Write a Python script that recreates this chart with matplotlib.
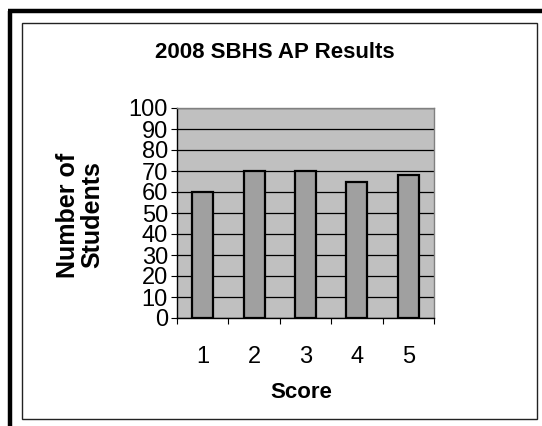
import matplotlib.pyplot as plt
from matplotlib.lines import Line2D
from matplotlib.patches import Rectangle
from matplotlib.ticker import FixedLocator

# AP score counts
scores = [1, 2, 3, 4, 5]
students = [60, 70, 70, 65, 68]
score_labels = ["1", "2", "3", "4", "5"]
y_ticks = list(range(0, 101, 10))

plt.rcParams["font.family"] = ["Liberation Sans", "DejaVu Sans"]

W, H = 542, 426
fig = plt.figure(figsize=(W / 100, H / 100), dpi=100)
fig.patch.set_facecolor("white")

# plot area in pixel terms
left, right, top, bottom = 177, 434, 108, 318
ax = fig.add_axes([left / W, 1 - bottom / H, (right - left) / W, (bottom - top) / H])
ax.set_facecolor("#C0C0C0")

ax.bar(scores, students, width=0.41, color="#A0A0A0", edgecolor="black",
       linewidth=1.6, zorder=3)

ax.set_xlim(0.5, 5.5)
ax.set_ylim(0, 100)
ax.set_yticks(y_ticks)
ax.yaxis.grid(True, color="black", linewidth=0.9, zorder=1)
ax.set_axisbelow(True)

# category boundaries get the tick marks, labels sit under the bars
ax.xaxis.set_major_locator(FixedLocator([0.5, 1.5, 2.5, 3.5, 4.5, 5.5]))
ax.xaxis.set_major_formatter(plt.NullFormatter())
ax.xaxis.set_minor_locator(FixedLocator(scores))
ax.set_xticklabels(score_labels, minor=True)
ax.tick_params(axis="x", which="major", direction="out", length=4.5, width=0.8, color="black")
ax.tick_params(axis="x", which="minor", length=0, pad=20, labelsize=17)
ax.tick_params(axis="y", direction="out", length=4.5, width=0.8, pad=2, labelsize=17)

for s in ["top", "right"]:
    ax.spines[s].set_color("#808080")
    ax.spines[s].set_linewidth(1.0)
for s in ["left", "bottom"]:
    ax.spines[s].set_color("black")
    ax.spines[s].set_linewidth(1.0)

fig.text(275 / W, 1 - 52 / H, "2008 SBHS AP Results", ha="center", va="center",
         fontsize=16, fontweight="bold")
fig.text(301 / W, 1 - 392 / H, "Score", ha="center", va="center",
         fontsize=16, fontweight="bold")
fig.text(80 / W, 1 - 215 / H, "Number of\nStudents", ha="center", va="center",
         rotation=90, fontsize=18, fontweight="bold", linespacing=1.0)

# chart frames
fig.add_artist(Rectangle((22 / W, 1 - 419 / H), (537 - 22) / W, (419 - 23) / H,
                         transform=fig.transFigure, fill=False,
                         edgecolor="#222222", linewidth=1.0))
fig.add_artist(Line2D([10 / W, 10 / W], [1 - 10.5 / H, 0], transform=fig.transFigure,
                      color="black", linewidth=3.2, solid_capstyle="butt"))
fig.add_artist(Line2D([8 / W, 1], [1 - 10.5 / H, 1 - 10.5 / H], transform=fig.transFigure,
                      color="black", linewidth=3.2, solid_capstyle="butt"))

fig.savefig("out.png", dpi=100)
